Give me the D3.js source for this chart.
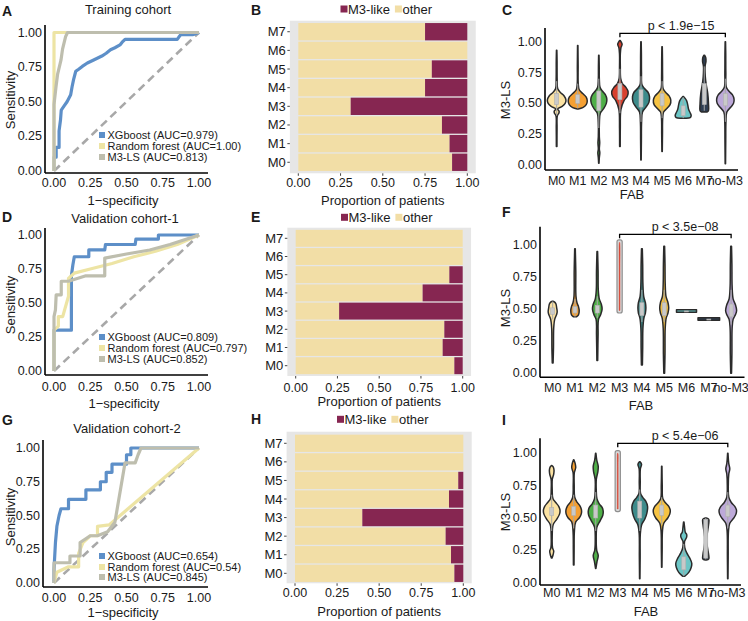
<!DOCTYPE html>
<html><head><meta charset="utf-8">
<script src="https://cdn.jsdelivr.net/npm/d3@7"></script>
<style>
body{margin:0;background:#fff}
svg{display:block}
text{font-family:"Liberation Sans",Arial,Helvetica,sans-serif;fill:#1a1a1a}
</style>
</head><body>
<svg id="chart" width="748" height="621"></svg>
<script>
// ---------------- DATA ----------------
const rocTicks = [0, 0.25, 0.5, 0.75, 1];
const modelNames = ["XGboost", "Random forest", "M3-LS"];
const cohortTitles = ["Training cohort", "Validation cohort-1", "Validation cohort-2"];
const aucTrain = ["0.979", "1.00", "0.813"];
const aucVal1 = ["0.809", "0.797", "0.852"];
const aucVal2 = ["0.654", "0.54", "0.845"];

const rocTrainXGB = [[0,0],[0,0.1],[0.015,0.1],[0.015,0.17],[0.035,0.17],[0.035,0.29],[0.045,0.37],[0.05,0.44],[0.07,0.47],[0.09,0.5],[0.1,0.52],[0.115,0.55],[0.125,0.61],[0.135,0.66],[0.15,0.72],[0.17,0.735],[0.195,0.755],[0.23,0.78],[0.27,0.8],[0.33,0.83],[0.36,0.85],[0.39,0.875],[0.42,0.89],[0.455,0.91],[0.47,0.93],[0.49,0.95],[0.85,0.95],[0.86,0.965],[0.875,0.985],[0.96,0.985],[1,1]];
const rocTrainRF = [[0,0],[0,1],[1,1]];
const rocTrainM3 = [[0,0],[0,0.48],[0.014,0.61],[0.025,0.7],[0.048,0.8],[0.059,0.88],[0.08,0.97],[0.093,1],[1,1]];

const rocVal1XGB = [[0,0],[0,0.3],[0.12,0.3],[0.12,0.7],[0.13,0.78],[0.14,0.84],[0.24,0.84],[0.24,0.89],[0.35,0.89],[0.355,0.93],[0.56,0.93],[0.565,0.97],[0.72,0.97],[0.72,1],[1,1]];
const rocVal1RF = [[0,0],[0,0.3],[0.03,0.33],[0.03,0.4],[0.06,0.4],[0.1,0.55],[0.1,0.68],[0.14,0.72],[0.25,0.75],[0.4,0.79],[0.55,0.84],[0.7,0.88],[0.85,0.93],[1,1]];
const rocVal1M3 = [[0,0],[0,0.4],[0.01,0.45],[0.015,0.56],[0.05,0.56],[0.05,0.66],[0.1,0.66],[0.22,0.7],[0.35,0.7],[0.35,0.83],[0.5,0.86],[0.66,0.89],[0.8,0.93],[1,1]];

const rocVal2XGB = [[0,0],[0,0.1],[0.01,0.3],[0.02,0.42],[0.035,0.5],[0.048,0.55],[0.1,0.55],[0.1,0.62],[0.22,0.62],[0.22,0.69],[0.32,0.69],[0.32,0.75],[0.36,0.75],[0.36,0.82],[0.4,0.82],[0.4,0.88],[0.5,0.88],[0.5,0.95],[0.53,0.95],[0.53,1],[1,1]];
const rocVal2RF = [[0,0],[0.02,0.08],[0.1,0.12],[0.17,0.12],[0.17,0.22],[0.2,0.3],[0.25,0.35],[0.3,0.35],[0.3,0.42],[0.38,0.43],[1,1]];
const rocVal2M3 = [[0,0],[0,0.15],[0.11,0.15],[0.11,0.2],[0.18,0.2],[0.18,0.3],[0.25,0.35],[0.3,0.35],[0.37,0.38],[0.42,0.45],[0.49,0.89],[0.56,0.89],[0.58,0.95],[0.6,1],[1,1]];

const fabCategories = ["M0","M1","M2","M3","M4","M5","M6","M7"];
const barTicks = [0, 0.25, 0.5, 0.75, 1];
const barLegend = ["M3-like", "other"];
const otherTrain = [0.91, 0.895, 0.85, 0.31, 0.75, 0.79, 1.0, 0.75];
const otherVal1  = [0.95, 0.88, 0.89, 0.26, 0.76, 0.92, 1.0, 1.0];
const otherVal2  = [0.947, 0.927, 0.895, 0.40, 0.915, 0.97, 1.0, 1.0];

const fabGroups = ["M0","M1","M2","M3","M4","M5","M6","M7","no-M3"];
const violinTicks = [0, 0.25, 0.5, 0.75, 1];
const pTrain = "p < 1.9e\u221215";
const pVal1 = "p < 3.5e\u221208";
const pVal2 = "p < 5.4e\u221206";

// violin profiles: [M3-LS value, relative half width]
const violinTrain = [
  [[0.15,0.03],[0.3,0.04],[0.4,0.07],[0.42,0.22],[0.435,0.25],[0.455,0.1],[0.475,0.55],[0.5,0.85],[0.527,0.93],[0.56,0.75],[0.59,0.35],[0.62,0.1],[0.7,0.05],[0.85,0.04],[0.93,0.02]],
  [[0.455,0.05],[0.465,0.5],[0.49,0.85],[0.52,0.95],[0.55,0.85],[0.58,0.5],[0.61,0.15],[0.66,0.05],[0.8,0.04],[0.97,0.02]],
  [[0.014,0.02],[0.06,0.05],[0.1,0.1],[0.13,0.05],[0.18,0.09],[0.23,0.05],[0.35,0.06],[0.42,0.15],[0.46,0.5],[0.5,0.75],[0.535,0.8],[0.57,0.65],[0.6,0.35],[0.63,0.12],[0.7,0.05],[0.8,0.04],[0.89,0.02]],
  [[0.15,0.03],[0.3,0.04],[0.45,0.1],[0.52,0.4],[0.56,0.75],[0.595,0.82],[0.63,0.6],[0.66,0.25],[0.7,0.08],[0.8,0.04],[0.9,0.04],[0.95,0.1],[0.98,0.22],[1.01,0.03]],
  [[0.04,0.02],[0.2,0.04],[0.35,0.06],[0.43,0.15],[0.47,0.5],[0.51,0.8],[0.554,0.85],[0.59,0.7],[0.62,0.35],[0.65,0.1],[0.75,0.05],[0.9,0.04],[1.0,0.02]],
  [[0.11,0.02],[0.25,0.04],[0.38,0.06],[0.43,0.15],[0.46,0.5],[0.49,0.8],[0.527,0.87],[0.56,0.7],[0.59,0.35],[0.62,0.1],[0.72,0.05],[0.85,0.04],[0.96,0.02]],
  [[0.38,0.3],[0.385,0.7],[0.4,0.8],[0.42,0.72],[0.45,0.55],[0.49,0.45],[0.52,0.35],[0.54,0.2],[0.556,0.03]],
  [[0.43,0.3],[0.44,0.42],[0.5,0.42],[0.58,0.35],[0.65,0.2],[0.72,0.1],[0.8,0.08],[0.84,0.17],[0.87,0.15],[0.89,0.03]],
  [[0.01,0.02],[0.2,0.04],[0.35,0.06],[0.43,0.15],[0.47,0.55],[0.5,0.82],[0.535,0.87],[0.57,0.7],[0.6,0.35],[0.63,0.1],[0.75,0.05],[0.9,0.04],[1.0,0.02]]
];
// box stats: [lower whisker, q1, median, q3, upper whisker]
const boxTrain = [[0.4,0.49,0.53,0.58,0.68],[0.46,0.5,0.53,0.57,0.66],[0.3,0.44,0.53,0.6,0.7],[0.42,0.53,0.59,0.66,0.78],[0.35,0.47,0.54,0.61,0.72],[0.38,0.48,0.53,0.58,0.68],[0.38,0.4,0.44,0.48,0.55],[0.44,0.49,0.55,0.66,0.8],[0.35,0.48,0.53,0.58,0.7]];

const violinVal1 = [
  [[0.08,0.04],[0.2,0.08],[0.35,0.1],[0.42,0.2],[0.46,0.4],[0.48,0.45],[0.51,0.4],[0.54,0.33],[0.555,0.2],[0.562,0.03]],
  [[0.44,0.15],[0.455,0.35],[0.49,0.42],[0.52,0.35],[0.55,0.2],[0.6,0.1],[0.8,0.08],[0.97,0.03]],
  [[0.10,0.04],[0.3,0.08],[0.42,0.12],[0.46,0.35],[0.5,0.48],[0.54,0.4],[0.58,0.2],[0.65,0.1],[0.8,0.08],[0.95,0.03]],
  [[0.49,0.04],[0.6,0.04],[0.8,0.04],[1.0,0.04],[1.02,0.02]],
  [[0.065,0.05],[0.2,0.08],[0.35,0.1],[0.43,0.2],[0.47,0.35],[0.51,0.4],[0.55,0.35],[0.6,0.18],[0.7,0.1],[0.85,0.08],[0.97,0.04]],
  [[0.0,0.04],[0.15,0.08],[0.35,0.1],[0.43,0.2],[0.47,0.38],[0.51,0.45],[0.55,0.38],[0.6,0.18],[0.7,0.1],[0.85,0.08],[0.99,0.04]],
  [[0.476,1.0],[0.496,1.0]],
  [[0.413,1.08],[0.433,1.08]],
  [[0.0,0.04],[0.15,0.08],[0.35,0.1],[0.42,0.2],[0.46,0.45],[0.49,0.55],[0.53,0.45],[0.58,0.2],[0.68,0.1],[0.85,0.08],[0.99,0.04]]
];
const boxVal1 = [[0.42,0.46,0.48,0.51,0.56],[0.44,0.47,0.49,0.52,0.58],[0.43,0.47,0.5,0.53,0.6],[0.47,0.47,0.75,1.04,1.04],[0.4,0.45,0.5,0.55,0.65],[0.4,0.45,0.5,0.55,0.65],[0.486,0.486,0.486,0.486,0.486],[0.423,0.423,0.423,0.423,0.423],[0.38,0.44,0.49,0.54,0.65]];

const violinVal2 = [
  [[0.19,0.03],[0.22,0.15],[0.245,0.2],[0.27,0.08],[0.35,0.05],[0.45,0.15],[0.49,0.5],[0.53,0.78],[0.56,0.83],[0.59,0.7],[0.62,0.4],[0.65,0.12],[0.72,0.05],[0.8,0.06],[0.84,0.2],[0.87,0.23],[0.895,0.15],[0.905,0.02]],
  [[0.137,0.03],[0.25,0.04],[0.4,0.07],[0.47,0.2],[0.5,0.55],[0.53,0.75],[0.56,0.78],[0.59,0.65],[0.62,0.35],[0.66,0.1],[0.75,0.05],[0.85,0.06],[0.89,0.2],[0.92,0.15],[0.95,0.02]],
  [[0.11,0.02],[0.16,0.12],[0.21,0.25],[0.25,0.1],[0.33,0.05],[0.43,0.12],[0.48,0.45],[0.52,0.7],[0.55,0.75],[0.58,0.65],[0.61,0.35],[0.65,0.12],[0.72,0.05],[0.8,0.06],[0.86,0.22],[0.9,0.25],[0.95,0.1],[1.0,0.02]],
  [[0.57,0.04],[0.7,0.04],[0.9,0.04],[0.99,0.04],[1.0,0.02]],
  [[0.03,0.02],[0.2,0.04],[0.38,0.06],[0.45,0.2],[0.49,0.5],[0.54,0.72],[0.59,0.78],[0.63,0.6],[0.66,0.3],[0.69,0.08],[0.78,0.05],[0.88,0.06],[0.915,0.18],[0.935,0.03]],
  [[0.12,0.02],[0.25,0.04],[0.4,0.07],[0.46,0.2],[0.5,0.6],[0.53,0.8],[0.56,0.85],[0.59,0.7],[0.62,0.35],[0.65,0.1],[0.75,0.05],[0.9,0.02]],
  [[0.05,0.1],[0.08,0.5],[0.12,0.75],[0.15,0.8],[0.19,0.6],[0.23,0.3],[0.27,0.1],[0.32,0.08],[0.35,0.28],[0.37,0.3],[0.39,0.15],[0.43,0.08],[0.47,0.02]],
  [[0.175,0.05],[0.185,0.3],[0.22,0.28],[0.28,0.15],[0.33,0.08],[0.38,0.15],[0.45,0.28],[0.49,0.3],[0.5,0.05]],
  [[0.03,0.02],[0.2,0.04],[0.4,0.07],[0.46,0.2],[0.5,0.6],[0.53,0.82],[0.56,0.87],[0.59,0.7],[0.62,0.35],[0.66,0.1],[0.75,0.05],[0.84,0.1],[0.88,0.2],[0.92,0.1],[1.0,0.02]]
];
const boxVal2 = [[0.4,0.52,0.55,0.58,0.68],[0.42,0.52,0.55,0.59,0.68],[0.4,0.5,0.54,0.6,0.7],[0.55,0.55,0.9,1.02,1.02],[0.4,0.5,0.57,0.63,0.72],[0.45,0.52,0.56,0.6,0.66],[0.05,0.1,0.14,0.2,0.3],[0.18,0.19,0.33,0.49,0.5],[0.42,0.51,0.56,0.6,0.7]];

// ---------------- STYLE ----------------
const rocColors = ["#5D8FC8", "#EDE4A4", "#BEBEAE"];
const barColors = {"M3-like": "#862651", "other": "#F2DEA6"};
const fabColors = ["#FBE2A2","#F5A033","#4FAF48","#D8412E","#3D8B8B","#F6C343","#6CC6C6","#2F3E52","#BDA9D9"];
const fs = 12.5;

const svg = d3.select("#chart");

function label(x, y, t) {
  svg.append("text").attr("x", x).attr("y", y).attr("dominant-baseline", "central")
    .attr("font-size", 14).attr("font-weight", "bold").text(t);
}

// ---------------- ROC PANELS ----------------
function rocPanel(c, curves, aucs, title, letter) {
  const x = d3.scaleLinear().domain([0, 1]).range([c.x0, c.x1]);
  const y = d3.scaleLinear().domain([0, 1]).range([c.y0, c.y1]);
  const g = svg.append("g");
  g.append("line").attr("x1", c.axL).attr("x2", c.axL).attr("y1", c.axT).attr("y2", c.axB)
    .attr("stroke", "#000").attr("stroke-width", 1.6);
  g.append("line").attr("x1", c.axL).attr("x2", c.axR).attr("y1", c.axB).attr("y2", c.axB)
    .attr("stroke", "#000").attr("stroke-width", 1.6);
  rocTicks.forEach(v => {
    g.append("text").attr("x", c.axL - 3).attr("y", y(v)).attr("text-anchor", "end")
      .attr("dominant-baseline", "central").attr("font-size", fs).text(d3.format(".2f")(v));
    g.append("text").attr("x", x(v)).attr("y", c.xtickY).attr("text-anchor", "middle")
      .attr("dominant-baseline", "central").attr("font-size", fs).text(d3.format(".2f")(v));
  });
  g.append("line").attr("x1", x(0)).attr("y1", y(0)).attr("x2", x(1)).attr("y2", y(1))
    .attr("stroke", "#A8A8A8").attr("stroke-width", 2.6).attr("stroke-dasharray", "8,5");
  const line = d3.line().x(d => x(d[0])).y(d => y(d[1]));
  [0, 1, 2].forEach(i => {
    g.append("path").attr("d", line(curves[i])).attr("fill", "none")
      .attr("stroke", rocColors[i]).attr("stroke-width", 3.2).attr("stroke-linejoin", "round");
  });
  modelNames.forEach((m, i) => {
    g.append("rect").attr("x", c.legX).attr("y", c.legY[i] - 3).attr("width", 6).attr("height", 6)
      .attr("fill", rocColors[i]);
    g.append("text").attr("x", c.legX + 8.5).attr("y", c.legY[i]).attr("dominant-baseline", "central")
      .attr("font-size", 11).text(m + " (AUC=" + aucs[i] + ")");
  });
  g.append("text").attr("x", c.title[0]).attr("y", c.title[1]).attr("text-anchor", "middle")
    .attr("dominant-baseline", "central").attr("font-size", fs + 0.5).text(title);
  g.append("text").attr("transform", `translate(${c.ylab[0]},${c.ylab[1]}) rotate(-90)`)
    .attr("text-anchor", "middle").attr("dominant-baseline", "central").attr("font-size", fs + 0.5).text("Sensitivity");
  g.append("text").attr("x", c.xlab[0]).attr("y", c.xlab[1]).attr("text-anchor", "middle")
    .attr("dominant-baseline", "central").attr("font-size", fs + 0.5).text("1\u2212specificity");
  label(c.letter[0], c.letter[1], letter);
}

rocPanel({x0:54,x1:199,y0:171,y1:32.5,axL:45,axR:208,axT:25,axB:173,title:[128,9],letter:[2,11],ylab:[10,100],xlab:[123,200],xtickY:183,legX:99,legY:[135,146,157]},
  [rocTrainXGB, rocTrainRF, rocTrainM3], aucTrain, cohortTitles[0], "A");
rocPanel({x0:54,x1:199,y0:371,y1:235,axL:45,axR:208,axT:228,axB:375,title:[125,218],letter:[2,217],ylab:[10,305],xlab:[124,403],xtickY:387,legX:99,legY:[337,348,359]},
  [rocVal1XGB, rocVal1RF, rocVal1M3], aucVal1, cohortTitles[1], "D");
rocPanel({x0:54,x1:199,y0:583,y1:448,axL:43,axR:208,axT:440,axB:587,title:[127,428],letter:[2,420],ylab:[10,517],xlab:[123,612],xtickY:598,legX:99,legY:[556,567,577]},
  [rocVal2XGB, rocVal2RF, rocVal2M3], aucVal2, cohortTitles[2], "G");

// ---------------- BAR PANELS ----------------
function barPanel(c, other, letter) {
  const x = d3.scaleLinear().domain([0, 1]).range([c.x0, c.x1]);
  const y = d3.scaleBand().domain(fabCategories.slice().reverse()).range([c.top, c.bottom]).paddingInner(0.07).paddingOuter(0.035);
  const g = svg.append("g");
  const ext = 0.05 * (c.x1 - c.x0);
  g.append("rect").attr("x", c.x0 - ext).attr("y", c.bgT).attr("width", c.x1 - c.x0 + 2 * ext)
    .attr("height", c.bgB - c.bgT).attr("fill", "#E6E6E6");
  const data = fabCategories.map((k, i) => ({k, other: other[i]}));
  g.selectAll(".o").data(data).enter().append("rect")
    .attr("x", x(0)).attr("y", d => y(d.k)).attr("width", d => x(d.other) - x(0)).attr("height", y.bandwidth())
    .attr("fill", barColors.other);
  g.selectAll(".m").data(data).enter().append("rect")
    .attr("x", d => x(d.other)).attr("y", d => y(d.k)).attr("width", d => x(1) - x(d.other)).attr("height", y.bandwidth())
    .attr("fill", barColors["M3-like"]);
  fabCategories.forEach(k => {
    const yc = y(k) + y.bandwidth() / 2;
    g.append("line").attr("x1", c.x0 - ext - 2.5).attr("x2", c.x0 - ext).attr("y1", yc).attr("y2", yc).attr("stroke", "#444");
    g.append("text").attr("x", c.x0 - ext - 4).attr("y", yc).attr("text-anchor", "end").attr("dominant-baseline", "central")
      .attr("font-size", fs + 0.5).text(k);
  });
  barTicks.forEach(v => {
    g.append("line").attr("x1", x(v)).attr("x2", x(v)).attr("y1", c.bgB).attr("y2", c.bgB + 2.5).attr("stroke", "#444");
    g.append("text").attr("x", x(v)).attr("y", c.xtickY).attr("text-anchor", "middle").attr("dominant-baseline", "central")
      .attr("font-size", fs).text(d3.format(".2f")(v));
  });
  g.append("text").attr("x", (c.x0 + c.x1) / 2).attr("y", c.xlabY).attr("text-anchor", "middle").attr("dominant-baseline", "central")
    .attr("font-size", fs + 0.5).text("Proportion of patients");
  let lx = c.legX;
  barLegend.forEach((k, i) => {
    g.append("rect").attr("x", lx).attr("y", c.legY - 3.5).attr("width", 7).attr("height", 7).attr("fill", barColors[k]);
    const t = g.append("text").attr("x", lx + 7.5).attr("y", c.legY).attr("dominant-baseline", "central")
      .attr("font-size", fs + 0.5).text(k);
    lx += 7.5 + t.node().getComputedTextLength() + 5;
  });
  label(c.letter[0], c.letter[1], letter);
}

barPanel({x0:298.3,x1:467.3,top:22.4,bottom:171.6,bgT:20.7,bgB:173.3,xtickY:183.3,xlabY:200,legX:340.5,legY:9,letter:[251,10]}, otherTrain, "B");
barPanel({x0:295.7,x1:462.7,top:229.2,bottom:374.8,bgT:227.7,bgB:376,xtickY:387.7,xlabY:401.7,legX:341,legY:217.3,letter:[251,217]}, otherVal1, "E");
barPanel({x0:295,x1:463.3,top:434,bottom:582.6,bgT:431.7,bgB:583.3,xtickY:593.3,xlabY:611.7,legX:337,legY:419.3,letter:[251,419]}, otherVal2, "H");

// ---------------- VIOLIN PANELS ----------------
function violinPanel(c, profiles, boxes, ptext, letter) {
  const x = d3.scalePoint().domain(fabGroups).range([c.a, c.b]).padding(0.6);
  const y = d3.scaleLinear().domain([0, 1]).range([c.y0, c.y1]);
  const w = d3.scaleLinear().domain([0, 1]).range([0, 10]);
  const g = svg.append("g");
  g.append("line").attr("x1", c.axL).attr("x2", c.axL).attr("y1", c.axT).attr("y2", c.axB).attr("stroke", "#000").attr("stroke-width", 1.6);
  g.append("line").attr("x1", c.axL).attr("x2", c.b).attr("y1", c.axB).attr("y2", c.axB).attr("stroke", "#000").attr("stroke-width", 1.6);
  violinTicks.forEach(v => {
    g.append("text").attr("x", c.axL - 3).attr("y", y(v)).attr("text-anchor", "end").attr("dominant-baseline", "central")
      .attr("font-size", fs).text(d3.format(".2f")(v));
  });
  fabGroups.forEach((k, i) => {
    g.append("text").attr("x", x(k)).attr("y", c.xtickY).attr("text-anchor", "middle").attr("dominant-baseline", "central")
      .attr("font-size", fs).text(k);
  });
  g.append("text").attr("x", c.xlabX).attr("y", c.xlabY).attr("text-anchor", "middle").attr("dominant-baseline", "central")
    .attr("font-size", fs + 0.5).text("FAB");
  g.append("text").attr("transform", `translate(${c.ylab[0]},${c.ylab[1]}) rotate(-90)`)
    .attr("text-anchor", "middle").attr("dominant-baseline", "central").attr("font-size", fs + 0.5).text("M3-LS");

  fabGroups.forEach((k, i) => {
    const cx = x(k);
    const prof = profiles[i];
    const b = boxes[i];
    const area = d3.area().curve(d3.curveCatmullRom.alpha(0.5))
      .y(d => y(d[0])).x0(d => cx - w(d[1])).x1(d => cx + w(d[1]));
    const maxW = d3.max(prof, d => w(d[1]));
    if (maxW < 2) {
      // violin narrower than the box: box underneath, thin coloured violin on top
      g.append("rect").attr("x", cx - 2.6).attr("width", 5.2).attr("y", y(b[3])).attr("height", y(b[1]) - y(b[3]))
        .attr("rx", 2).attr("fill", "#D9D9D9").attr("stroke", "#8E8E8E").attr("stroke-width", 1.2);
      g.append("path").attr("d", area(prof)).attr("fill", fabColors[i]).attr("stroke", fabColors[i]).attr("stroke-width", 0.5);
    } else {
      g.append("path").attr("d", area(prof)).attr("fill", fabColors[i])
        .attr("stroke", "#2b2b2b").attr("stroke-width", 1.5).attr("stroke-linejoin", "round");
      g.append("line").attr("x1", cx).attr("x2", cx).attr("y1", y(b[0])).attr("y2", y(b[4]))
        .attr("stroke", "#A6A6A6").attr("stroke-width", 1);
      g.append("rect").attr("x", cx - 2).attr("width", 4).attr("y", y(b[3])).attr("height", Math.max(1, y(b[1]) - y(b[3])))
        .attr("fill", "#C9C9C9").attr("stroke", "#B0B0B0").attr("stroke-width", 0.6);
    }
  });
  const xa = x("M3"), xb = x("no-M3");
  g.append("path").attr("d", `M${xa},${c.brY + 4}V${c.brY}H${xb}V${c.brY + 4}`).attr("fill", "none")
    .attr("stroke", "#000").attr("stroke-width", 1.3);
  g.append("text").attr("x", c.pX).attr("y", c.pY).attr("text-anchor", "middle").attr("dominant-baseline", "central")
    .attr("font-size", fs).text(ptext);
  label(c.letter[0], c.letter[1], letter);
}

violinPanel({a:544,b:738,y0:165,y1:41.7,axL:545,axT:28,axB:170,ylab:[505,100],xtickY:181,xlabY:194,xlabX:632,brY:33.3,pY:26,pX:681,letter:[502,10]},
  violinTrain, boxTrain, pTrain, "C");
violinPanel({a:539.3,b:744.5,y0:373.3,y1:245,axL:540,axT:226.7,axB:377.3,ylab:[505,308],xtickY:388.3,xlabY:405,xlabX:641,brY:234.3,pY:226.5,pX:685,letter:[502,212]},
  violinVal1, boxVal1, pVal1, "F");
violinPanel({a:538.5,b:741,y0:582.7,y1:453.3,axL:540,axT:438.3,axB:585,ylab:[505,512],xtickY:592.7,xlabY:611.7,xlabX:646,brY:443.3,pY:436,pX:685,letter:[502,420]},
  violinVal2, boxVal2, pVal2, "I");
</script>
</body></html>
